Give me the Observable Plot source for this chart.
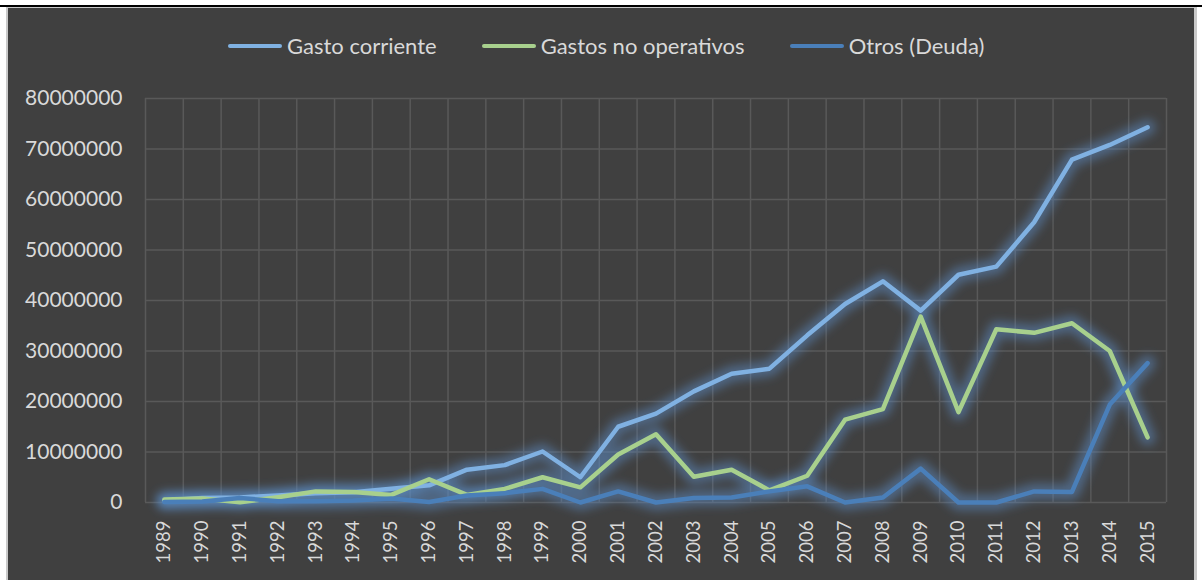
<!DOCTYPE html>
<html>
<head>
<meta charset="utf-8">
<script src="https://cdn.jsdelivr.net/npm/d3@7"></script>
<script src="https://cdn.jsdelivr.net/npm/@observablehq/plot@0.6"></script>
<style>
  html, body { margin: 0; padding: 0; }
  body { width: 1202px; height: 580px; overflow: hidden; position: relative; background: #ffffff; font-family: Lato, "Open Sans", sans-serif; }
  #topline { position: absolute; left: 0; top: 5px; width: 1202px; height: 2px; background: #000; }
  #panel { position: absolute; left: 6px; top: 7px; width: 1191px; height: 580px; background: #404040; box-sizing: border-box; border-style: solid; border-color: #c9c9c9; border-width: 1px 3px 0 2px; }
  #legend { position: absolute; top: 32px; left: 228px; display: flex; align-items: center; color: #d9d9d9; font-size: 22px; white-space: nowrap; }
  .item { display: flex; align-items: center; }
  .sw { width: 54px; height: 4px; border-radius: 2px; margin-right: 5px; }
  #chart { position: absolute; left: 0; top: 60px; }
</style>
</head>
<body>
<div id="topline"></div>
<div id="panel"></div>
<div id="legend"></div>
<div id="chart"></div>
<script>
// ---- data ----
const years = [1989,1990,1991,1992,1993,1994,1995,1996,1997,1998,1999,2000,2001,2002,2003,2004,2005,2006,2007,2008,2009,2010,2011,2012,2013,2014,2015];
const seriesNames = ["Gasto corriente", "Gastos no operativos", "Otros (Deuda)"];
const gastoCorriente = [400000,900000,1000000,1400000,1850000,2050000,2700000,3400000,6500000,7400000,10100000,5000000,15000000,17600000,22000000,25500000,26500000,33100000,39300000,43800000,38000000,45100000,46700000,55500000,67900000,70800000,74300000];
const gastosNoOperativos = [600000,800000,50000,1050000,2200000,2100000,1500000,4600000,1500000,2700000,5000000,3000000,9500000,13500000,5100000,6500000,2400000,5300000,16400000,18500000,36800000,17900000,34300000,33600000,35500000,30000000,12900000];
const otrosDeuda = [100000,200000,900000,250000,250000,400000,800000,100000,1400000,1850000,2700000,0,2200000,0,900000,1000000,2200000,3200000,0,1000000,6700000,0,0,2200000,2100000,19400000,27600000];
const yTicks = [0,10000000,20000000,30000000,40000000,50000000,60000000,70000000,80000000];
const colors = ["#80b1e2", "#a8d08d", "#4a7fb9"];

// ---- build table ----
const allValues = [gastoCorriente, gastosNoOperativos, otrosDeuda];
const data = [];
seriesNames.forEach((s, i) => years.forEach((yr, j) => data.push({series: s, year: yr, value: allValues[i][j]})));
const bounds = years.map(y => y - 0.5).concat([years[years.length - 1] + 0.5]);

// ---- legend ----
const legend = document.getElementById("legend");
seriesNames.forEach((s, i) => {
  const it = document.createElement("div");
  it.className = "item";
  if (i > 0) it.style.marginLeft = "45px";
  const sw = document.createElement("div");
  sw.className = "sw";
  sw.style.background = colors[i];
  const tx = document.createElement("span");
  tx.textContent = s;
  it.appendChild(sw); it.appendChild(tx);
  legend.appendChild(it);
});

// ---- chart ----
const chart = Plot.plot({
  width: 1202,
  height: 520,
  marginLeft: 145,
  marginRight: 36,
  marginTop: 38,
  marginBottom: 78,
  style: {background: "transparent", color: "#d9d9d9", fontSize: "21px", fontFamily: "Lato, 'Open Sans', sans-serif", overflow: "visible"},
  x: {type: "linear", domain: [years[0] - 0.5, years[years.length - 1] + 0.5], ticks: years, tickFormat: d => String(d), tickRotate: -90, tickSize: 0, tickPadding: 18, label: null},
  y: {domain: [0, 80000000], ticks: yTicks, tickFormat: d3.format("d"), tickSize: 0, tickPadding: 23, label: null},
  color: {domain: seriesNames, range: colors},
  marks: [
    Plot.ruleY(yTicks, {stroke: "#595959", strokeWidth: 1.5}),
    Plot.ruleX(bounds, {stroke: "#595959", strokeWidth: 1.5}),
    Plot.line(data, {x: "year", y: "value", z: "series", stroke: "#5b8cc4", strokeWidth: 16, strokeOpacity: 0.5, strokeLinejoin: "round", strokeLinecap: "round"}),
    Plot.line(data, {x: "year", y: "value", z: "series", stroke: "series", strokeWidth: 4.5, strokeLinejoin: "round", strokeLinecap: "round"})
  ]
});
document.getElementById("chart").appendChild(chart);

// smaller year labels
chart.querySelectorAll('g[aria-label^="x-axis"]').forEach(g => g.setAttribute("font-size", "18.5px"));
chart.querySelectorAll('g[aria-label^="x-axis"] text').forEach(t => t.style.fontSize = "18.5px");

// glow effect
const ns = "http://www.w3.org/2000/svg";
const defs = document.createElementNS(ns, "defs");
defs.innerHTML = '<filter id="glow" x="-10%" y="-10%" width="120%" height="120%"><feGaussianBlur stdDeviation="5"/></filter>';
chart.insertBefore(defs, chart.firstChild);
const lineGroups = chart.querySelectorAll('g[aria-label="line"]');
if (lineGroups.length) lineGroups[0].setAttribute("filter", "url(#glow)");
</script>
</body>
</html>
